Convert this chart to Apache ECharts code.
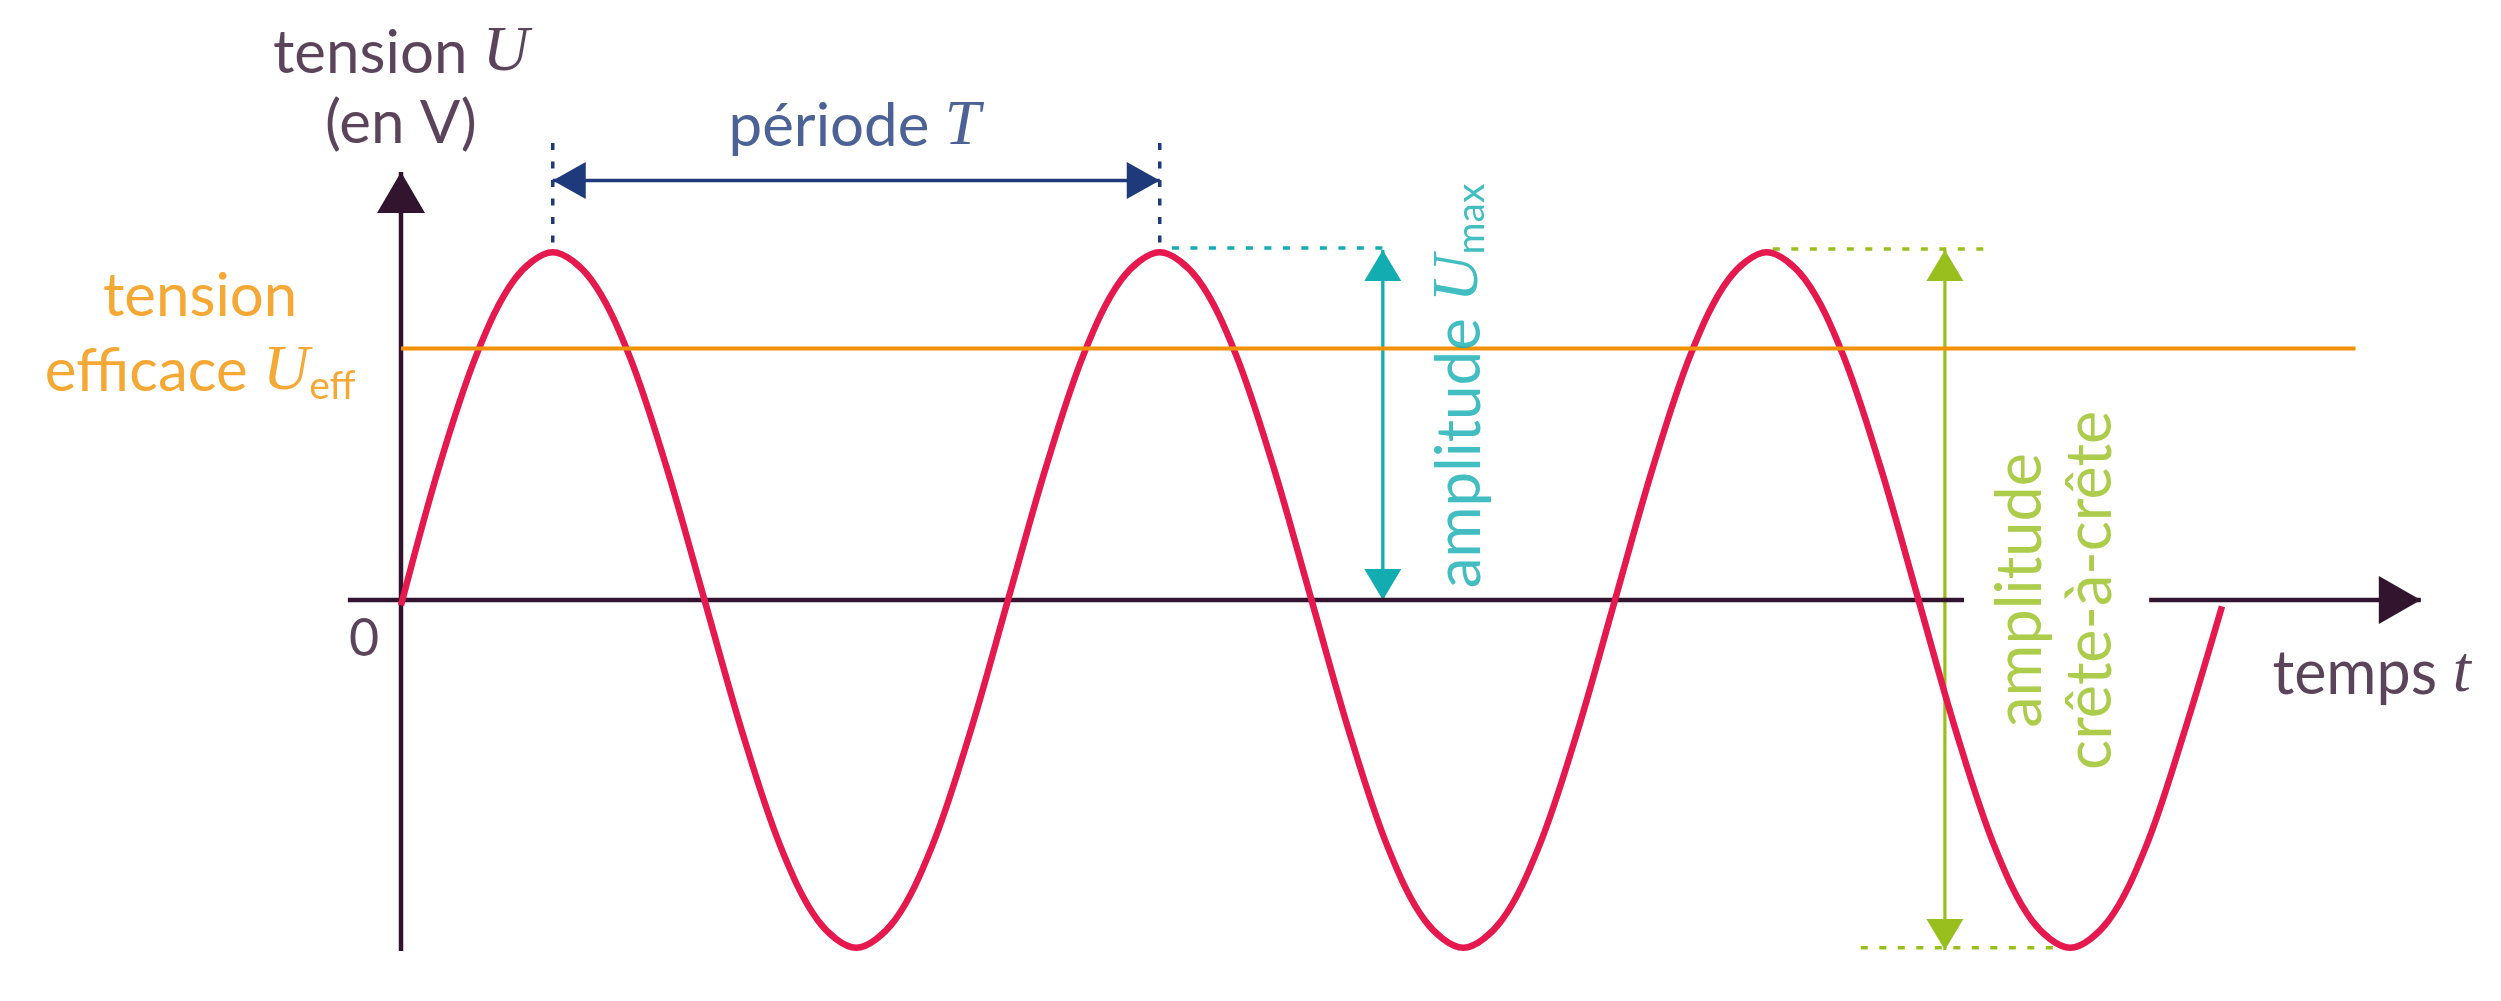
<!DOCTYPE html>
<html><head><meta charset="utf-8">
<script src="https://cdn.jsdelivr.net/npm/echarts@6/dist/echarts.min.js"></script>
<style>html,body{margin:0;padding:0;background:#fff}#c{width:2501px;height:1001px}</style>
</head><body><div id="c"></div>
<script>
// ---- data (time in ms, tension in V) ----
const curveT = [0,1.25,2.5,3.75,5,6.25,7.5,8.75,10,11.25,12.5,13.75,15,16.25,17.5,18.75,20,21.25,22.5,23.75,25,26.25,27.5,28.75,30,31.25,32.5,33.75,35,36.25,37.5,38.75,40,41.25,42.5,43.75,45,46.25,47.5,48.75,50,51.25,52.5,53.75,55,56.25,57.5,58.75,60];
const curveU = [-5,124,230,300,325,300,230,124,0,-124,-230,-300,-325,-300,-230,-124,0,124,230,300,325,300,230,124,0,-124,-230,-300,-325,-300,-230,-124,0,124,230,300,325,300,230,124,0,-124,-230,-300,-325,-300,-230,-124,-6];
const uEff = 235;
const uEffSpan = [0, 64.4];
const axisXLeft = [[-1.75, 0], [51.5, 0]];
const axisXRight = [[57.6, 0], [66.55, 0]];
const axisY = [[0, -328], [0, 400]];
const periodArrow = [[5, 392], [25, 392]];
const periodGuide1 = [[5, 427], [5, 334]];
const periodGuide2 = [[25, 427], [25, 334]];
const maxGuide = [[25.4, 329], [32.35, 329]];
const maxArrow = [[32.35, 327], [32.35, 0]];
const ppGuideTop = [[45.2, 328], [52.15, 328]];
const ppGuideBottom = [[48.1, -325], [55.1, -325]];
const ppArrow = [[50.87, 327], [50.87, -327]];
const labelT = [0, -6.62, 14.94, 64.93, -1.22, 34.89, 54.53];
const labelU = [478, 248, 442, -69, -37, 200, 9];
const labelText = [
  '{n|tension }{i|U}\n{n|(en V)}',
  '{n|tension}\n{n|efficace }{i|U}{s|eff}',
  '{n|période }{i|T}',
  '{n|temps }{i|t}',
  '{n|0}',
  '{n|amplitude }{i|U}{s|max}',
  '{n|amplitude}\n{n|crête-à-crête}'
];

// ---- layout / styles ----
const W = 2501, H = 1001, X0 = 401, Y0 = 600, PX_MS = 30.35, PX_V = 1.07;
const DARK = '#32142f', RED = '#e6194f', ORANGE = '#f39200', NAVY = '#1f3a7a', TEAL = '#13adb1', GREEN = '#98bf1e';
const FONT = "Lato, 'Open Sans', sans-serif";
const MATH = "'Liberation Serif', serif";
const labelColor = [DARK, ORANGE, NAVY, DARK, DARK, TEAL, GREEN];
const labelRot = [0, 0, 0, 0, 0, 90, 90];
const labelLH = [70, 75, 70, 70, 70, 70, 70];
const labelFS = [60, 60, 60, 61, 52, 62, 63];

const up = (w, l) => ({size: [w, l], rot: 0, off: [0, l / 2]});
const down = (w, l) => ({size: [w, l], rot: 180, off: [0, -l / 2]});
const right = (w, l) => ({size: [w, l], rot: -90, off: [-l / 2, 0]});
const left = (w, l) => ({size: [w, l], rot: 90, off: [l / 2, 0]});

function lineSeries(pts, color, width, z, dash, heads, smooth) {
  return {
    type: 'line', smooth: smooth || false, z: z, clip: false, silent: true,
    symbol: 'none', showSymbol: true, animation: false,
    data: pts.map((p, i) => {
      const h = heads && heads[i];
      return h ? {value: p, symbol: 'triangle', symbolSize: h.size, symbolRotate: h.rot, symbolOffset: h.off}
               : {value: p, symbol: 'none'};
    }),
    lineStyle: {color: color, width: width, type: dash || 'solid', cap: 'butt'},
    itemStyle: {color: color},
    emphasis: {disabled: true}
  };
}

function rich(color, lh, fs) {
  return {
    n: {fontFamily: FONT, fontSize: fs, fontWeight: 'normal', color: color, lineHeight: lh},
    i: {fontFamily: MATH, fontStyle: 'italic', fontWeight: 'normal', fontSize: fs + 4, color: color, lineHeight: lh},
    s: {fontFamily: FONT, fontSize: 39, fontWeight: 'normal', color: color, verticalAlign: 'bottom', padding: [0, 0, 4, 0]}
  };
}

const DOT = [7, 11.5];
const series = [
  lineSeries(ppGuideTop, GREEN, 3.5, 2, DOT),
  lineSeries(ppGuideBottom, GREEN, 3.5, 2, DOT),
  lineSeries(ppArrow, GREEN, 3.2, 2, null, [up(37, 31), down(37, 31)]),
  lineSeries(maxGuide, TEAL, 3.5, 2, DOT),
  lineSeries(maxArrow, TEAL, 3.3, 2, null, [up(37, 31), down(37, 31)]),
  lineSeries(periodGuide1, NAVY, 3.5, 2, DOT),
  lineSeries(periodGuide2, NAVY, 3.5, 2, DOT),
  lineSeries(periodArrow, NAVY, 3.5, 2, null, [left(37, 33), right(37, 33)]),
  lineSeries(axisXLeft, DARK, 4.5, 3),
  lineSeries(axisXRight, DARK, 4.5, 3, null, [null, right(48, 42)]),
  lineSeries(axisY, DARK, 4.5, 3, null, [null, up(48, 41)]),
  lineSeries(curveT.map((t, i) => [t, curveU[i]]), RED, 6.5, 4, null, null, 0.33),
  lineSeries(uEffSpan.map(t => [t, uEff]), ORANGE, 4, 5),
  {
    type: 'scatter', z: 6, silent: true, animation: false,
    symbol: 'circle', symbolSize: 1, itemStyle: {color: 'rgba(0,0,0,0)'},
    data: labelT.map((t, i) => ({
      value: [t, labelU[i]],
      label: {
        show: true, position: 'inside', formatter: labelText[i], rotate: labelRot[i],
        align: 'center', verticalAlign: 'middle',
        rich: rich(labelColor[i], labelLH[i], labelFS[i])
      }
    }))
  }
];

const chart = echarts.init(document.getElementById('c'), null, {renderer: 'canvas'});
chart.setOption({
  animation: false,
  backgroundColor: '#ffffff',
  grid: {left: 0, right: 0, top: 0, bottom: 0},
  xAxis: {type: 'value', min: -X0 / PX_MS, max: (W - X0) / PX_MS, show: false},
  yAxis: {type: 'value', min: -(H - Y0) / PX_V, max: Y0 / PX_V, show: false},
  series: series
});
</script>
</body></html>
